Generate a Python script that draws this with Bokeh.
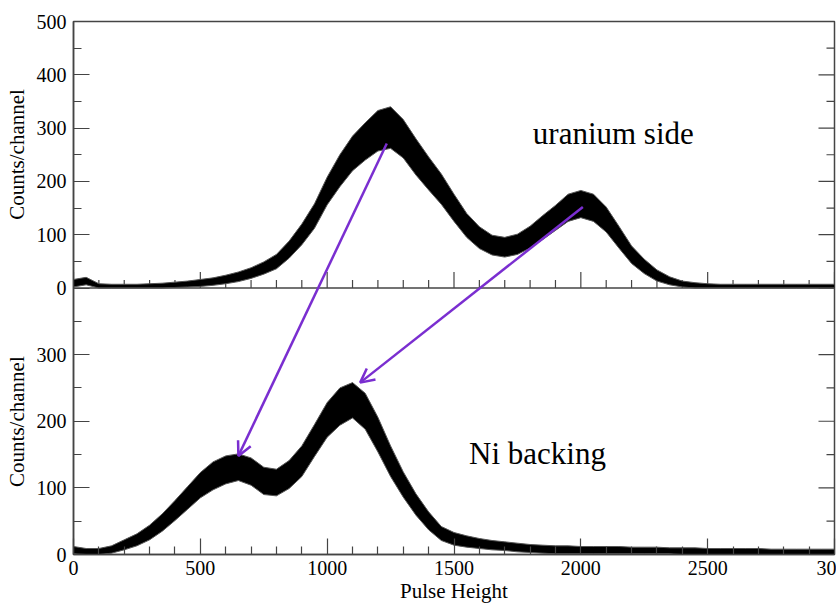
from math import pi
from bokeh.plotting import figure
from bokeh.models import Range1d, FixedTicker, Span, Label, Arrow, OpenHead
from bokeh.embed import file_html
from bokeh.resources import INLINE

# ---------------- data ----------------
channels = list(range(0, 3001, 50))

# uranium side: lower / upper edge of the noisy band (counts/channel)
top_lo = [2, 6, 0, 0, 0, 0, 0, 0, 1, 2,
          3, 5, 8, 12, 18, 26, 36, 56, 81, 112,
          156, 190, 220, 240, 257, 262, 244, 212, 184, 157,
          125, 95, 74, 62, 58, 63, 75, 91, 108, 125,
          132, 125, 105, 75, 46, 27, 13, 6, 2, 0,
          0, 0, 0, 0, 0, 0, 0, 0, 0, 0, 0]
top_hi = [16, 20, 8, 7, 7, 7, 8, 9, 11, 13,
          16, 19, 24, 30, 38, 49, 63, 88, 120, 158,
          208, 250, 285, 310, 333, 340, 316, 280, 246, 214,
          176, 140, 115, 99, 95, 101, 116, 136, 155, 176,
          183, 176, 152, 116, 79, 54, 34, 21, 13, 10,
          8, 7, 7, 7, 7, 7, 7, 7, 7, 7, 7]

# Ni backing: lower / upper edge of the noisy band
bot_lo = [1, 0, 0, 2, 7, 13, 22, 35, 51, 68,
          85, 97, 106, 111, 104, 90, 88, 99, 117, 147,
          176, 194, 205, 188, 154, 117, 86, 59, 37, 21,
          14, 11, 9, 7, 6, 4, 3, 2,
          1, 1, 1, 1, 1, 1, 1, 1, 1,
          1, 0, 0, 0, 0, 0, 0, 0,
          0, 0, 0, 0, 0, 0]
bot_hi = [12, 9, 9, 13, 22, 31, 44, 61, 81, 102,
          123, 139, 148, 151, 145, 131, 128, 141, 163, 195,
          228, 250, 258, 242, 206, 163, 124, 91, 64, 42,
          33, 28, 24, 21, 19, 17, 15, 14,
          13, 13, 12, 12, 12, 12, 11, 11, 11,
          10, 10, 10, 9, 9, 9, 9, 9,
          8, 8, 8, 8, 8, 8]

# tick positions / labels
x_major = [0, 500, 1000, 1500, 2000, 2500, 3000]
x_labels = ["0", "500", "1000", "1500", "2000", "2500", "30"]
x_minor = [v for v in range(100, 3000, 100) if v % 500 != 0]
top_major = [0, 100, 200, 300, 400, 500]
top_minor = [50, 150, 250, 350, 450]
bot_major = [0, 100, 200, 300]
bot_minor = [50, 150, 250, 350]
y_title = "Counts/channel"

# arrows: (pulse height, counts) start in upper panel, end in lower panel
arrow_starts = [(1235, 271), (2008, 152)]
arrow_ends = [(650, 148), (1130, 258)]

# ---------------- figure ----------------
BOT_RANGE = (0, 800)   # lower panel shows 0..400 in the bottom half of the frame


def bot_to_main(v):
    return v * 1000.0 / (BOT_RANGE[1] - BOT_RANGE[0]) - 500


AX = "#444444"
FONT = "Liberation Serif"
PURPLE = "#7A2ED0"

p = figure(width=836, height=605, output_backend="svg", toolbar_location=None,
           x_range=Range1d(0, 3000), y_range=Range1d(-500, 500),
           min_border_left=73, min_border_right=2, min_border_top=21, min_border_bottom=50)
p.extra_y_ranges = {"bot": Range1d(*BOT_RANGE)}
p.grid.visible = False
p.background_fill_color = "white"
p.border_fill_color = "white"
p.outline_line_color = AX
p.outline_line_width = 1.5

# left axis carrying both panels' ticks
left_ticks = [bot_to_main(v) for v in bot_major] + top_major
left_minor = [bot_to_main(v) for v in bot_minor] + top_minor
overrides = {bot_to_main(v): str(v) for v in bot_major}
overrides.update({v: str(v) for v in top_major})


def style_axis(ax):
    ax.axis_line_color = AX
    ax.axis_line_width = 1.5
    ax.major_tick_line_color = AX
    ax.minor_tick_line_color = AX
    ax.major_tick_line_width = 1.2
    ax.minor_tick_line_width = 1.2
    ax.major_tick_in = 16
    ax.major_tick_out = 0
    ax.minor_tick_in = 8
    ax.minor_tick_out = 0
    ax.major_label_text_font = FONT
    ax.major_label_text_font_size = "20px"
    ax.major_label_text_color = "black"
    ax.axis_label_text_font = FONT
    ax.axis_label_text_font_size = "21px"
    ax.axis_label_text_font_style = "normal"
    ax.axis_label_text_color = "black"


yax = p.yaxis[0]
yax.ticker = FixedTicker(ticks=left_ticks, minor_ticks=left_minor)
yax.major_label_overrides = overrides
style_axis(yax)
yax.major_label_standoff = 7
# one title per panel: the two copies are separated by non-breaking spaces
yax.axis_label = y_title + "\u00a0" * 26 + y_title
yax.axis_label_standoff = 5

xax = p.xaxis[0]
xax.ticker = FixedTicker(ticks=x_major, minor_ticks=x_minor)
xax.major_label_overrides = dict(zip(x_major, x_labels))
style_axis(xax)
xax.axis_label = "Pulse Height"
xax.major_label_standoff = 6
xax.axis_label_standoff = 1

# divider between the panels and its inward ticks
p.add_layout(Span(location=0, dimension="width", line_color=AX, line_width=1.5))
p.ray(x=x_major, y=[0] * len(x_major), length=16, angle=pi / 2, length_units="screen",
      line_color=AX, line_width=1.2)
p.ray(x=x_minor, y=[0] * len(x_minor), length=8, angle=pi / 2, length_units="screen",
      line_color=AX, line_width=1.2)

# mirrored inward ticks on the right edge
XR = 3000
p.ray(x=[XR] * len(top_major), y=top_major, length=16, angle=pi, length_units="screen",
      line_color=AX, line_width=1.2)
p.ray(x=[XR] * len(top_minor), y=top_minor, length=8, angle=pi, length_units="screen",
      line_color=AX, line_width=1.2)
p.ray(x=[XR] * len(bot_major), y=bot_major, length=16, angle=pi, length_units="screen",
      line_color=AX, line_width=1.2, y_range_name="bot")
p.ray(x=[XR] * len(bot_minor), y=bot_minor, length=8, angle=pi, length_units="screen",
      line_color=AX, line_width=1.2, y_range_name="bot")

# spectra
p.varea(x=channels, y1=top_lo, y2=top_hi, fill_color="black")
p.line(channels, top_hi, line_color="#555555", line_width=1)
p.line(channels, top_lo, line_color="#555555", line_width=1)
p.varea(x=channels, y1=bot_lo, y2=bot_hi, fill_color="black", y_range_name="bot")
p.line(channels, bot_hi, line_color="#555555", line_width=1, y_range_name="bot")
p.line(channels, bot_lo, line_color="#555555", line_width=1, y_range_name="bot")

# annotations
p.add_layout(Label(x=2128, y=290, text="uranium side", text_align="center",
                   text_baseline="alphabetic", text_font=FONT, text_font_size="31px",
                   text_color="black"))
p.add_layout(Label(x=1829, y=152, y_range_name="bot", text="Ni backing", text_align="center",
                   text_baseline="alphabetic", text_font=FONT, text_font_size="31px",
                   text_color="black"))

for (xs, ys), (xe, ye) in zip(arrow_starts, arrow_ends):
    p.add_layout(Arrow(end=OpenHead(size=14, line_color=PURPLE, line_width=2.5),
                       x_start=xs, y_start=ys, x_end=xe, y_end=bot_to_main(ye),
                       line_color=PURPLE, line_width=2.5))

open("out.html", "w").write(file_html(p, INLINE))
